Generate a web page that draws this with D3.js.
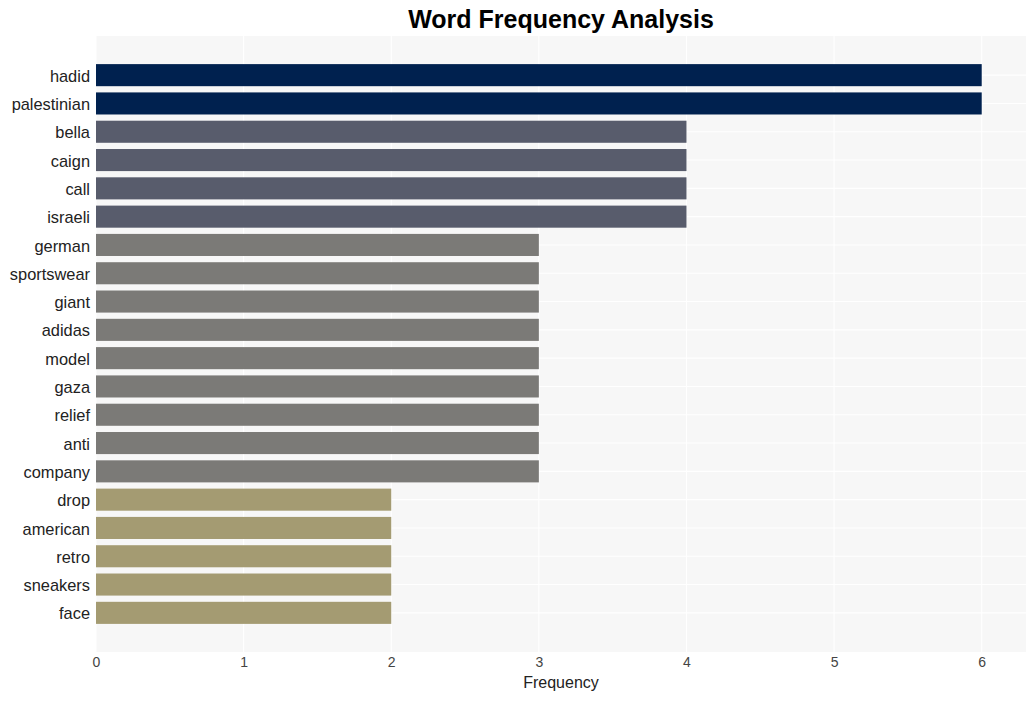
<!DOCTYPE html>
<html><head><meta charset="utf-8">
<script src="https://cdn.jsdelivr.net/npm/d3@7"></script>
<style>body{margin:0;background:#fff;font-family:"Liberation Sans",Arial,sans-serif;}</style>
</head><body><svg id="c" width="1036" height="701"></svg>
<script>
const categories = ["hadid","palestinian","bella","caign","call","israeli","german","sportswear","giant","adidas","model","gaza","relief","anti","company","drop","american","retro","sneakers","face"];
const values = [6,6,4,4,4,4,3,3,3,3,3,3,3,3,3,2,2,2,2,2];
const xTicks = [0,1,2,3,4,5,6];
const colorByValue = {6:"#00214f",4:"#585c6c",3:"#7b7a77",2:"#a49b72"};

(function(){
const svg = d3.select("#c");
const pL=96, pR=1026, pT=36, pB=652;
svg.append("rect").attr("x",pL).attr("y",pT).attr("width",pR-pL).attr("height",pB-pT).attr("fill","#f7f7f7");

const x = d3.scaleLinear().domain([0,6.3]).range([pL,pR]);
const y = d3.scaleBand().domain(categories).range([61,627]).paddingInner(0.22).paddingOuter(0.11);

svg.append("g").selectAll("line").data(xTicks).join("line")
  .attr("x1",d=>x(d)).attr("x2",d=>x(d)).attr("y1",pT).attr("y2",pB)
  .attr("stroke","#fff").attr("stroke-width",1.1);
svg.append("g").selectAll("line").data(categories).join("line")
  .attr("x1",pL).attr("x2",pR).attr("y1",d=>y(d)+y.bandwidth()/2).attr("y2",d=>y(d)+y.bandwidth()/2)
  .attr("stroke","#fff").attr("stroke-width",1.1);

svg.append("g").selectAll("rect").data(categories).join("rect")
  .attr("x",x(0)).attr("y",d=>y(d)).attr("height",y.bandwidth())
  .attr("width",(d,i)=>x(values[i])-x(0)).attr("fill",(d,i)=>colorByValue[values[i]]);

const xa = svg.append("g").attr("transform",`translate(0,${pB})`)
  .attr("font-size",14).attr("font-family","Liberation Sans, Arial, sans-serif")
  .call(d3.axisBottom(x).tickValues(xTicks).tickFormat(d3.format("d")).tickSize(0).tickPadding(5));
xa.attr("font-size",14).attr("font-family","Liberation Sans, Arial, sans-serif");
xa.select(".domain").remove();
xa.selectAll("text").style("font-size","14px").style("fill","#444");

const ya = svg.append("g").attr("transform",`translate(${pL},0)`)
  .call(d3.axisLeft(y).tickSize(0).tickPadding(6));
ya.attr("font-family","Liberation Sans, Arial, sans-serif");
ya.select(".domain").remove();
ya.selectAll("text").style("font-size","16.4px").attr("dy","0.4em").style("fill","#222");

svg.append("text").attr("x",(pL+pR)/2).attr("y",688).attr("text-anchor","middle")
  .attr("font-size",16).attr("fill","#222").text("Frequency");
svg.append("text").attr("x",(pL+pR)/2).attr("y",28).attr("text-anchor","middle")
  .attr("font-size",25).attr("font-weight","bold").attr("fill","#000").text("Word Frequency Analysis");
})();
</script></body></html>
